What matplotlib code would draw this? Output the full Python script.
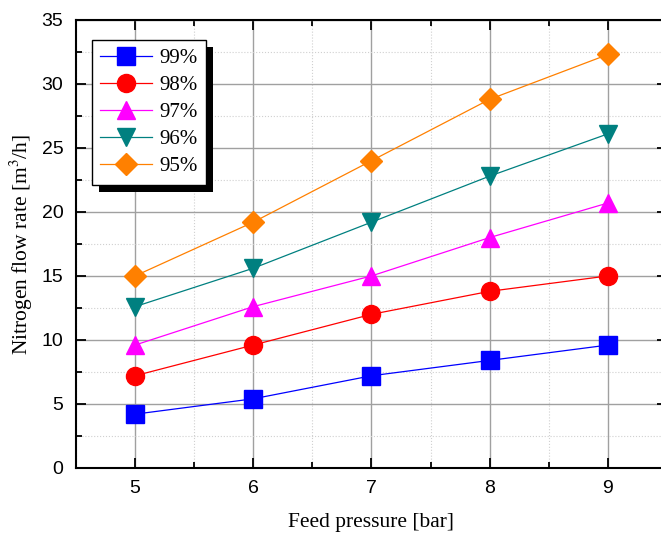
import matplotlib
matplotlib.use("Agg")
import matplotlib.pyplot as plt
import matplotlib.patheffects as pe
from matplotlib.ticker import MultipleLocator

# Feed pressure [bar]
pressure = [5, 6, 7, 8, 9]

# Nitrogen flow rate [m3/h] per purity
flow_99 = [4.2, 5.4, 7.2, 8.4, 9.6]
flow_98 = [7.2, 9.6, 12.0, 13.8, 15.0]
flow_97 = [9.6, 12.6, 15.0, 18.0, 20.7]
flow_96 = [12.6, 15.6, 19.2, 22.8, 26.1]
flow_95 = [15.0, 19.2, 24.0, 28.8, 32.3]

labels = ['99%', '98%', '97%', '96%', '95%']
colors = ['#0000ff', '#ff0000', '#ff00ff', '#008080', '#ff8000']
markers = ['s', 'o', '^', 'v', 'D']

plt.rcParams['mathtext.fontset'] = 'stix'

fig = plt.figure(figsize=(6.61, 5.36), dpi=100)
ax = fig.add_axes([0.1148, 0.127, 0.8944, 0.8358])

series = [flow_99, flow_98, flow_97, flow_96, flow_95]
for vals, lab, col, mk in zip(series, labels, colors, markers):
    ms = 13 if mk != 'D' else 11
    ax.plot(pressure, vals, color=col, lw=0.9, marker=mk, markersize=ms,
            markeredgecolor=col, label=lab, zorder=3, clip_on=False)

ax.set_xlim(4.5, 9.5)
ax.set_ylim(0, 35)
ax.xaxis.set_major_locator(MultipleLocator(1))
ax.xaxis.set_minor_locator(MultipleLocator(0.5))
ax.yaxis.set_major_locator(MultipleLocator(5))
ax.yaxis.set_minor_locator(MultipleLocator(2.5))

ax.grid(which='major', color='#a0a0a0', lw=1.0, ls='-', zorder=0)
ax.grid(which='minor', color='#d0d0d0', lw=0.8, ls=':', zorder=0)
ax.set_axisbelow(True)

ax.tick_params(which='both', direction='in', top=True, right=True,
               width=1.3, labelsize=14)
ax.tick_params(which='major', length=7, pad=9)
ax.tick_params(which='minor', length=4)
for lab in ax.get_xticklabels() + ax.get_yticklabels():
    lab.set_family('Liberation Sans')
for sp in ax.spines.values():
    sp.set_linewidth(1.5)

ax.set_xlabel('Feed pressure [bar]', family='Liberation Serif', fontsize=15.5, labelpad=11)
ax.set_ylabel(r'Nitrogen flow rate [m$^3$/h]', family='Liberation Serif', fontsize=15.5, labelpad=5)

leg = ax.legend(loc='upper left', bbox_to_anchor=(0.027, 0.955),
                prop={'family': 'Liberation Serif', 'size': 15},
                frameon=True, fancybox=False, edgecolor='black',
                framealpha=1, handlelength=2.5, handletextpad=0.35,
                labelspacing=0.36, borderpad=0.4, borderaxespad=0)
leg.get_frame().set_linewidth(1.0)
leg.get_frame().set_path_effects([
    pe.SimplePatchShadow(offset=(5, -5), shadow_rgbFace='black', alpha=1.0),
    pe.Normal()])

fig.savefig('out.png', dpi=100)
